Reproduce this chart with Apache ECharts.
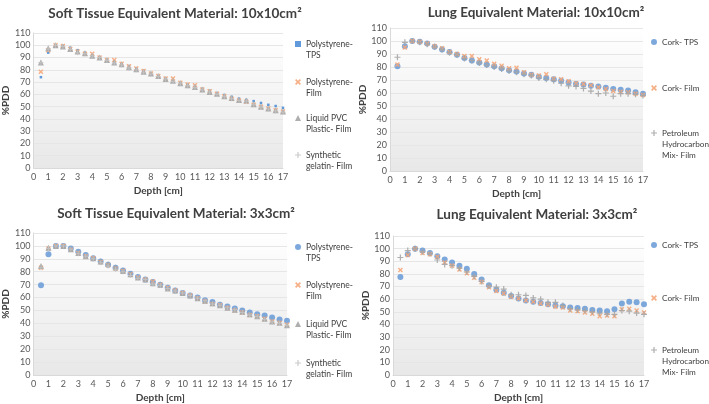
<!DOCTYPE html>
<html><head><meta charset="utf-8">
<script src="https://cdn.jsdelivr.net/npm/echarts@6/dist/echarts.min.js"></script>
<style>html,body{margin:0;padding:0;background:#fff}#c{width:709px;height:404px}</style>
</head><body><div id="c"></div>
<script>
const depth = [0.5,1,1.5,2,2.5,3,3.5,4,4.5,5,5.5,6,6.5,7,7.5,8,8.5,9,9.5,10,10.5,11,11.5,12,12.5,13,13.5,14,14.5,15,15.5,16,16.5,17];
const xTicks = [0,1,2,3,4,5,6,7,8,9,10,11,12,13,14,15,16,17];
const yTicks = [0,10,20,30,40,50,60,70,80,90,100,110];

// Soft tissue 10x10
const st10_psTPS  = [74,94,100,99.5,98,96,94,92,90,88,86.5,84.5,83,81,79,77,75,73,71,69.5,68,66.5,64.5,63,61,59.5,58,56.5,55.5,54.5,53,51.5,50.5,49];
const st10_psFilm = [78.5,96,100,99.5,97,95,93,93,90,88,88,85,83,81,79,77,75,73,73,69.5,68,67.5,64,62.5,60.5,58.5,56.5,55,54,51.5,50,48.5,47,46];
const st10_pvc    = [86,97.5,100,99,97,95,93.5,91.5,90,88,86,84.5,82,80.5,78.5,77,75,72.5,71,69,67.5,66,64,62,60.5,58.5,57,55.5,55,52,50,48.5,47,46];
const st10_gel    = [86,97,100,99,96.5,94,93,91.5,90,87.5,85.5,84,81.5,80,78,76.5,74.5,72.5,70.5,69,67,65.5,63.5,62,60,58,56.5,55,54.5,51.5,49.5,48,46.5,45.5];
// Lung 10x10
const lu10_corkTPS  = [80.5,96,100,99.5,98,95.5,93.5,91.5,89.5,87,85,83.5,82,80.5,79,77.5,76.5,75,74,72.5,71.5,70.5,69.5,68,67,66.5,65.5,65,64,63,62.5,62,60.5,59.5];
const lu10_corkFilm = [82,95,100,99.5,98,96,94.5,91.5,90,88.5,88.5,86,85,82.5,81,79,79.5,76,74,73.5,74.5,71,70.5,69,67.5,67,66,64.5,63,61.5,61,60.5,59.5,58.5];
const lu10_petro    = [87.5,99,100,99,97.5,95.5,93.5,91,89.5,86.5,85,83,81.5,80,78.5,77,76,74.5,73.5,71.5,70.5,69.5,67.5,65.5,65,63.5,61.5,59.5,60,57.5,59.5,59.5,59,58];
// Soft tissue 3x3
const st3_psTPS  = [69.5,93.5,100,100,98,95.5,93,90.5,88,85.5,83,81,78.5,76,74,72,70,67.5,65.5,63.5,61.5,60,58,56.5,54.5,53,51.5,50,48.5,47,46,44.5,43,42];
const st3_psFilm = [83,98,100,100,97,94.5,92,90.5,87.5,85,82.5,80.5,78,75.5,74,72.5,70,67.5,65.5,63.5,61.5,59.5,57,55,54,52,50,48.5,46.5,45.5,43.5,41.5,40.5,39];
const st3_pvc    = [84.5,98.5,100,100,97.5,94.5,92,90.5,88,86,83.5,80.5,78,75.5,74,71,70,67,65.5,63.5,61.5,59.5,57.5,55.5,54,52,50.5,49,47,45.5,43.5,41.5,40.5,38.5];
const st3_gel    = [83,98,100,100,97.5,94,92,90,87,84.5,82,80,77,75,74,70.5,69.5,67,65,63.5,61.5,59.5,57.5,55,54,52,50.5,48.5,46.5,45.5,43,41,40,38.5];
// Lung 3x3
const lu3_corkTPS  = [77.5,95.5,100,98.5,96.5,94,91.5,89,86.5,84,80,75.5,71,67.5,65,62.5,60.5,59,58,57,56,55,54.5,53.5,53,52.5,51.5,51,50.5,52,56.5,58,57.5,56];
const lu3_corkFilm = [83,95,100,96.5,95.5,93.5,89,86.5,83.5,80.5,77,73.5,69.5,66.5,64.5,62,60.5,59,58,56.5,55.5,54,53.5,51,50.5,49.5,48.5,46.5,47,46.5,52,52.5,51,49.5];
const lu3_petro    = [93,98.5,100,97.5,96,91,87.5,86.5,84.5,81.5,78,74,70.5,69.5,68,63.5,63.5,63,61,60,57.5,57.5,55,52.5,51.5,51,50,49,48,48,51,50.5,49,48];

const BLUE='#6f9fd8', ORANGE='#f4a77a', GREY='#a5a5a5', LGREY='#c4c4c4';
const X_SYM='path://M2,0 L5,3 L8,0 L10,2 L7,5 L10,8 L8,10 L5,7 L2,10 L0,8 L3,5 L0,2 Z';
const P_SYM='path://M4,0 H6 V4 H10 V6 H6 V10 H4 V6 H0 V4 H4 Z';

const zip = v => depth.map((d,i)=>[d,v[i]]);
const bg = new echarts.graphic.LinearGradient(0,0,0,1,[{offset:0,color:'#ffffff'},{offset:1,color:'#e8e8e8'}]);

const grids = [
  {left:30, top:33, width:253, height:135},
  {left:390, top:28, width:253, height:143},
  {left:30, top:233, width:257, height:144},
  {left:393, top:236, width:251, height:141}
].map(g=>Object.assign({show:true, backgroundColor:bg, borderWidth:0}, g));

const lbl = {fontSize:9, color:'#595959', fontFamily:'Lato'};
const xAxes = grids.map((g,i)=>({
  type:'value', gridIndex:i, min:0, max:17, interval:1,
  axisLine:{show:true, lineStyle:{color:'#d9d9d9'}}, axisTick:{show:false},
  splitLine:{show:false}, axisLabel:Object.assign({margin:5}, lbl),
  name:'Depth [cm]', nameLocation:'middle', nameGap:18,
  nameTextStyle:{fontSize:10, fontWeight:'bold', color:'#404040', fontFamily:'Lato'}
}));
const yAxes = grids.map((g,i)=>({
  type:'value', gridIndex:i, min:0, max:110, interval:10,
  axisLine:{show:true, lineStyle:{color:'#d9d9d9'}}, axisTick:{show:false},
  splitLine:{show:true, lineStyle:{color:'#e6e6e6'}}, axisLabel:Object.assign({margin:3}, lbl),
  name:'%PDD', nameLocation:'middle', nameGap:21,
  nameTextStyle:{fontSize:10, fontWeight:'bold', color:'#404040', fontFamily:'Lato'}
}));

function sc(name, idx, vals, symbol, size, color, z){
  return {type:'scatter', name, xAxisIndex:idx, yAxisIndex:idx, data:zip(vals),
    symbol, symbolSize:size, itemStyle:{color, opacity:0.9}, z:z||2};
}
const series = [
  sc('Polystyrene-\nTPS',0,st10_psTPS,'rect',2.5,'#4f8fd6'),
  sc('Polystyrene-\nFilm',0,st10_psFilm,X_SYM,5,ORANGE),
  sc('Liquid PVC\nPlastic- Film',0,st10_pvc,'triangle',6,GREY),
  sc('Synthetic\ngelatin- Film',0,st10_gel,P_SYM,5,LGREY),
  sc('Cork- TPS',1,lu10_corkTPS,'circle',6,BLUE),
  sc('Cork- Film',1,lu10_corkFilm,X_SYM,5,ORANGE),
  sc('Petroleum\nHydrocarbon\nMix- Film',1,lu10_petro,P_SYM,6,GREY),
  sc('Polystyrene-\nTPS ',2,st3_psTPS,'circle',6,BLUE),
  sc('Polystyrene-\nFilm ',2,st3_psFilm,X_SYM,5,ORANGE),
  sc('Liquid PVC\nPlastic- Film ',2,st3_pvc,'triangle',6,GREY),
  sc('Synthetic\ngelatin- Film ',2,st3_gel,P_SYM,5,LGREY),
  sc('Cork- TPS ',3,lu3_corkTPS,'circle',6,BLUE),
  sc('Cork- Film ',3,lu3_corkFilm,X_SYM,5,ORANGE),
  sc('Petroleum\nHydrocarbon\nMix- Film ',3,lu3_petro,P_SYM,6,GREY)
];

// legend anchor: [left, y of first text line]
const legPos = [[295,44],[295,82],[295,118],[295,155],
                [651,42],[651,88],[651,133],
                [295,247],[295,285],[295,324],[295,363],
                [651,245],[651,298],[651,350]];
const LH = 11;
const legends = series.map((s,i)=>{
  const n = s.name.split('\n').length;
  const h = (2*n-1)*LH;
  return {orient:'vertical', left:legPos[i][0], top:legPos[i][1]-h/2, itemWidth:6, itemHeight:6,
    selectedMode:false, padding:0, data:[s.name],
    formatter: nm => '\n'.repeat(n-1) + nm,
    textStyle:{fontSize:(legPos[i][0] > 600 ? 8.2 : 8.5), color:'#404040', fontFamily:'Lato', lineHeight:LH}};
});

const tStyle = {fontSize:13.5, fontWeight:'bold', color:'#404040', fontFamily:'Lato'};
const titles = [
  {text:'Soft Tissue Equivalent Material: 10x10cm²', left:175, top:7},
  {text:'Lung Equivalent Material: 10x10cm²', left:536, top:6},
  {text:'Soft Tissue Equivalent Material: 3x3cm²', left:176, top:207},
  {text:'Lung Equivalent Material: 3x3cm²', left:537, top:208}
].map(t=>Object.assign({textAlign:'center', textStyle:tStyle, padding:0}, t));

const chart = echarts.init(document.getElementById('c'), null, {renderer:'canvas'});
chart.setOption({animation:false, backgroundColor:'#fff', title:titles, legend:legends,
  grid:grids, xAxis:xAxes, yAxis:yAxes, series});
</script></body></html>
